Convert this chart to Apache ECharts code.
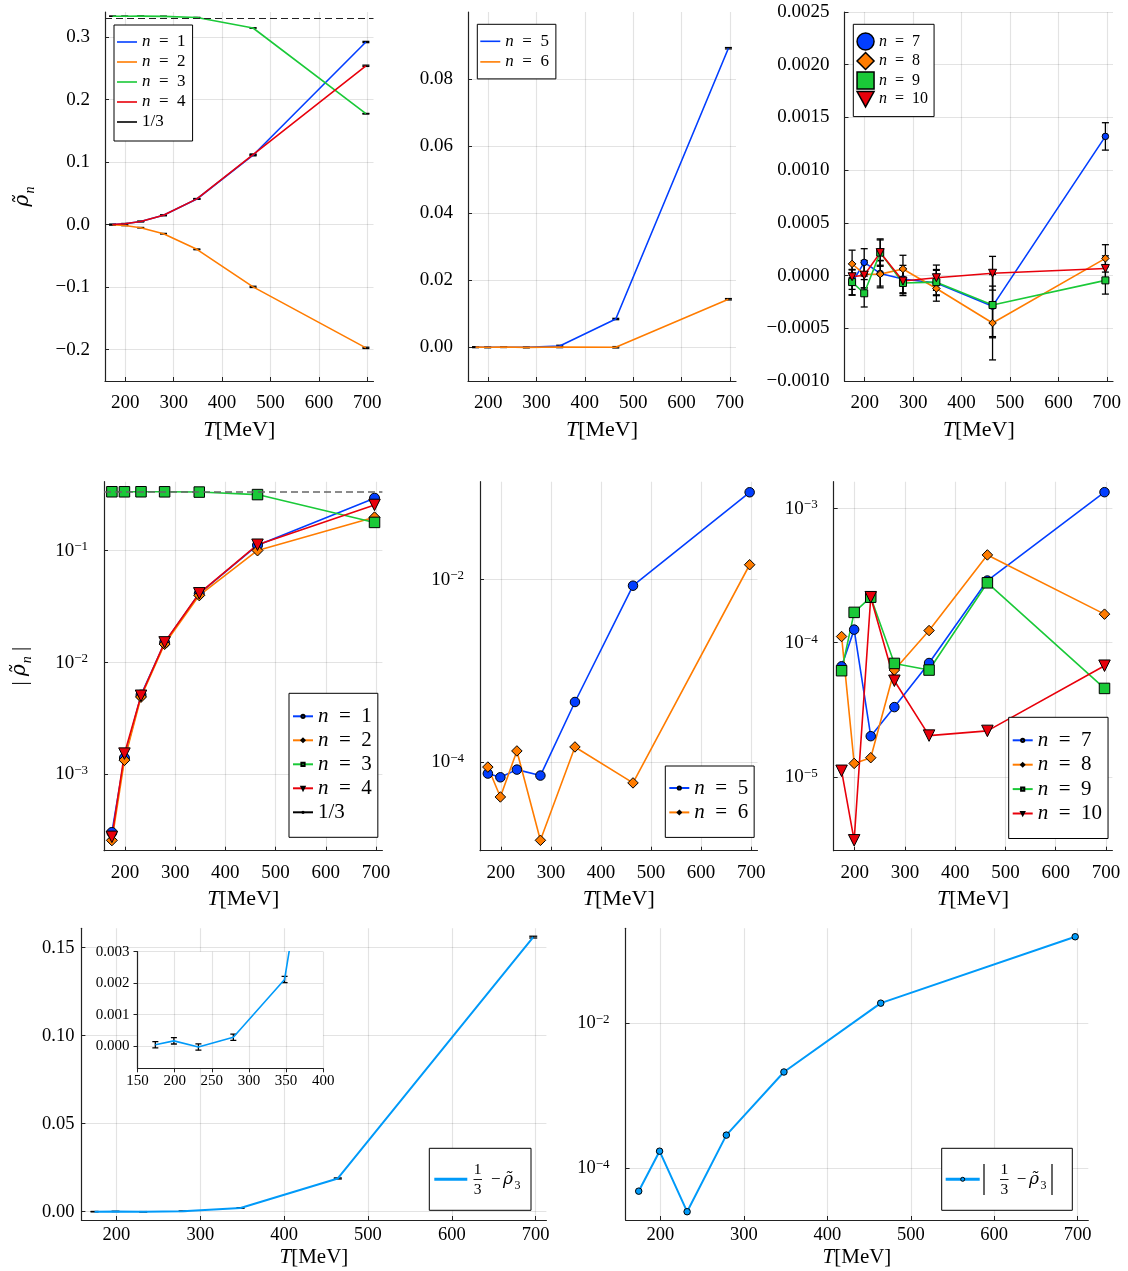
<!DOCTYPE html>
<html><head><meta charset="utf-8">
<script src="https://cdn.jsdelivr.net/npm/echarts@6/dist/echarts.min.js"></script>
<style>html,body{margin:0;padding:0;background:#fff}#c{width:1128px;height:1271px}</style>
</head><body><div id="c"></div>
<script>
// ---------------- data ----------------
const T = [174, 199, 232, 279, 348, 464, 697];
const ONE_THIRD = 1 / 3;
const rho1 = [0.000300, 0.00139, 0.00507, 0.0149, 0.0410, 0.111, 0.292];
const rho2 = [-0.000255, -0.00133, -0.00488, -0.0145, -0.0395, -0.0995, -0.197];
const rho4 = [0.000274, 0.00152, 0.00500, 0.0150, 0.0412, 0.112, 0.254];
const d3   = [0.000048, 0.000171, -0.000025, 0.000285, 0.00212, 0.0189, 0.156]; // 1/3 - rho3
const rho3 = d3.map(v => ONE_THIRD - v);
const rho5 = [0.0000747, 0.0000680, 0.0000825, 0.0000710, 0.000453, 0.00848, 0.0892];
const rho6 = [0.0000880, 0.0000414, 0.000132, 0.0000139, 0.000146, 0.0000590, 0.01437];
const rho7 = [-0.0000666, 0.000125, 0.0000201, -0.0000331, -0.0000705, -0.000290, 0.00132];
const rho8 = [0.000111, 0.0000126, 0.0000139, 0.0000625, -0.000123, -0.000450, 0.000163];
const rho9 = [-0.0000618, -0.000168, 0.000218, -0.0000700, -0.0000625, -0.000279, -0.0000456];
const rho10 = [-0.0000111, 0.00000337, 0.000218, -0.0000520, -0.0000203, 0.0000220, 0.0000673];

const errLow = [0.0002, 0.0003, 0.0004, 0.0005, 0.0006, 0.0010, 0.0010];
const errD3  = [0.0001, 0.0001, 0.0001, 0.0001, 0.0001, 0.0003, 0.0005];
const err56  = [0.0001, 0.0001, 0.0001, 0.0001, 0.0002, 0.0002, 0.0002];
const err7  = [0.00012, 0.00013, 0.00012, 0.00013, 0.00012, 0.00030, 0.00013];
const err8  = [0.00013, 0.00013, 0.00013, 0.00013, 0.00012, 0.00035, 0.00013];
const err9  = [0.00012, 0.00013, 0.00012, 0.00012, 0.00012, 0.00030, 0.00013];
const err10 = [0.00012, 0.00012, 0.00013, 0.00012, 0.00012, 0.00016, 0.00012];

// tick labels
const xTicks = [200, 300, 400, 500, 600, 700];
const insetXTicks = [150, 200, 250, 300, 350, 400];
const yTicksP1 = [-0.2, -0.1, 0, 0.1, 0.2, 0.3];
const yTicksP2 = [0, 0.02, 0.04, 0.06, 0.08];
const yTicksP3 = [-0.001, -0.0005, 0, 0.0005, 0.001, 0.0015, 0.002, 0.0025];
const yTicksP7 = [0, 0.05, 0.1, 0.15];
const yTicksInset = [0, 0.001, 0.002, 0.003];
const logTicksP4 = [1e-3, 1e-2, 1e-1];
const logTicksP5 = [1e-4, 1e-2];
const logTicksP6 = [1e-5, 1e-4, 1e-3];
const logTicksP8 = [1e-4, 1e-2];

// ---------------- style ----------------
const FF = '"Liberation Serif","DejaVu Serif",serif';
const FG = '"DejaVu Serif","Liberation Serif",serif'; // for rho with combining tilde
const BLUE = '#023eff', ORANGE = '#ff7c00', GREEN = '#1ac938', RED = '#e8000b', SKY = '#009af9';
const GRIDC = 'rgba(0,0,0,0.11)';
const AXC = '#222';
const XMIN = 158.3, XMAX = 712.7;

const grids = [
  {left: 105, top: 12, width: 268.5, height: 369},
  {left: 468, top: 12, width: 268, height: 369},
  {left: 844.5, top: 12, width: 268.5, height: 369},
  {left: 104, top: 481.7, width: 278.4, height: 369},
  {left: 480, top: 481.7, width: 277.5, height: 369},
  {left: 833.7, top: 481.7, width: 278.7, height: 369},
  {left: 81.4, top: 928.3, width: 465, height: 291.7},
  {left: 625.6, top: 928.3, width: 462.7, height: 291.7},
  {left: 137.5, top: 951.7, width: 185.7, height: 116.6, show: true, backgroundColor: '#fff', borderWidth: 0, z: 5}
].map(g => Object.assign({containLabel: false, outerBoundsMode: 'none'}, g));

const fmtLin = d => v => (v < -1e-12 ? '\u2212' : '') + Math.abs(v).toFixed(d);
const fmtLog = v => { const e = Math.round(Math.log10(v)); return '{b|10}{s|' + (e < 0 ? '\u2212' : '') + Math.abs(e) + '}'; };
const logRich = fs => ({
  b: {fontFamily: FF, fontSize: fs, lineHeight: fs + 1, padding: [9, 0, 0, 0], verticalAlign: 'bottom', color: '#000'},
  s: {fontFamily: FF, fontSize: Math.round(fs * 0.7), lineHeight: 14, verticalAlign: 'top', color: '#000'}
});

function xAxisOf(gi, o) {
  const ticks = o.ticks || xTicks;
  return {
    type: 'value', gridIndex: gi,
    min: o.min !== undefined ? o.min : XMIN, max: o.max !== undefined ? o.max : XMAX,
    axisLine: {show: true, onZero: false, lineStyle: {color: AXC, width: 1.2}},
    axisTick: {show: true, inside: o.tickOut ? false : true, length: 4, customValues: ticks, lineStyle: {color: AXC, width: 1}},
    axisLabel: {show: true, customValues: ticks, fontFamily: FF, fontSize: o.fs, color: '#000', margin: o.margin, formatter: v => String(v)},
    splitLine: {show: true, lineStyle: {color: GRIDC, width: 1.2}},
    name: o.noName ? '' : '{i|T}[MeV]', nameLocation: 'middle', nameGap: o.nameGap || 30,
    nameTextStyle: {fontFamily: FF, fontSize: o.nfs || 20, color: '#000',
      rich: {i: {fontFamily: FF, fontSize: o.nfs || 20, fontStyle: 'italic', color: '#000'}}},
    z: o.z || 0
  };
}
function yAxisOf(gi, o) {
  const ax = {
    type: o.log ? 'log' : 'value', gridIndex: gi, min: o.min, max: o.max,
    axisLine: {show: true, onZero: false, lineStyle: {color: AXC, width: 1.2}},
    axisTick: {show: true, inside: o.tickOut ? false : true, length: 4, customValues: o.ticks, lineStyle: {color: AXC, width: 1}},
    axisLabel: {show: true, customValues: o.ticks, fontFamily: FF, fontSize: o.fs, color: '#000', margin: o.margin,
      formatter: o.log ? fmtLog : fmtLin(o.dec)},
    splitLine: {show: true, lineStyle: {color: GRIDC, width: 1.2}},
    z: o.z || 0
  };
  if (o.log) { ax.logBase = 10; ax.axisLabel.rich = logRich(o.fs); }
  if (o.name) {
    ax.name = o.name; ax.nameLocation = 'middle'; ax.nameGap = o.nameGap; ax.nameRotate = 90;
    ax.nameTextStyle = {fontFamily: FF, fontSize: 21, color: '#000', rich: {
      r: {fontFamily: FG, fontSize: 20, fontStyle: 'italic', lineHeight: 22, verticalAlign: 'top', color: '#000'},
      u: {fontFamily: FF, fontSize: 21, lineHeight: 22, verticalAlign: 'top', color: '#000'},
      s: {fontFamily: FF, fontSize: 14, fontStyle: 'italic', lineHeight: 14, padding: [10, 0, 0, 1], verticalAlign: 'top', color: '#000'}
    }};
  }
  return ax;
}

const xAxes = [
  xAxisOf(0, {fs: 19, margin: 13, nameGap: 38, nfs: 22}),
  xAxisOf(1, {fs: 19, margin: 13, nameGap: 38, nfs: 22}),
  xAxisOf(2, {fs: 19, margin: 13, nameGap: 38, nfs: 22}),
  xAxisOf(3, {fs: 19, margin: 13, nameGap: 38, nfs: 22}),
  xAxisOf(4, {fs: 19, margin: 13, nameGap: 38, nfs: 22}),
  xAxisOf(5, {fs: 19, margin: 13, nameGap: 38, nfs: 22}),
  xAxisOf(6, {fs: 18.5, margin: 6, nameGap: 27, nfs: 21}),
  xAxisOf(7, {fs: 18.5, margin: 6, nameGap: 27, nfs: 21}),
  xAxisOf(8, {fs: 15, margin: 5, noName: true, min: 150, max: 400, ticks: insetXTicks, tickOut: true, z: 6})
];
const yAxes = [
  yAxisOf(0, {min: -0.25, max: 0.34, ticks: yTicksP1, dec: 1, fs: 19, margin: 15, name: '{r|ρ̃}{s|n}', nameGap: 70}),
  yAxisOf(1, {min: -0.01, max: 0.1, ticks: yTicksP2, dec: 2, fs: 19, margin: 15}),
  yAxisOf(2, {min: -0.001, max: 0.0025, ticks: yTicksP3, dec: 4, fs: 19, margin: 15}),
  yAxisOf(3, {log: true, min: 2.06e-4, max: 0.41, ticks: logTicksP4, fs: 19, margin: 16, name: '{u|| }{r|ρ̃}{s|n}{u| |}', nameGap: 72}),
  yAxisOf(4, {log: true, min: 1.07e-5, max: 0.1164, ticks: logTicksP5, fs: 19, margin: 16}),
  yAxisOf(5, {log: true, min: 2.82e-6, max: 1.58e-3, ticks: logTicksP6, fs: 19, margin: 16}),
  yAxisOf(6, {min: -0.0047, max: 0.161, ticks: yTicksP7, dec: 2, fs: 18.5, margin: 7}),
  yAxisOf(7, {log: true, min: 1.92e-5, max: 0.204, ticks: logTicksP8, fs: 18.5, margin: 16}),
  yAxisOf(8, {min: -0.0007, max: 0.003, ticks: yTicksInset, dec: 3, fs: 15, margin: 8, tickOut: true, z: 6})
];

// ---------------- series helpers ----------------
function errS(gi, ys, es, capW, z, clip) {
  return {
    type: 'custom', xAxisIndex: gi, yAxisIndex: gi, silent: true, z: z || 2, animation: false, clip: !!clip,
    data: T.map((t, i) => [t, ys[i], es[i]]),
    encode: {x: 0, y: 1},
    renderItem: (params, api) => {
      const x = api.value(0), y = api.value(1), e = api.value(2);
      const a = api.coord([x, y + e]), b = api.coord([x, y - e]);
      if (clip) {
        const r = params.coordSys;
        if (a[0] < r.x || a[0] > r.x + r.width || b[1] < r.y || a[1] > r.y + r.height) return null;
      }
      const h = capW / 2, st = {stroke: '#000', lineWidth: 1.3};
      return {type: 'group', children: [
        {type: 'line', shape: {x1: a[0], y1: a[1], x2: b[0], y2: b[1]}, style: st},
        {type: 'line', shape: {x1: a[0] - h, y1: a[1], x2: a[0] + h, y2: a[1]}, style: st},
        {type: 'line', shape: {x1: b[0] - h, y1: b[1], x2: b[0] + h, y2: b[1]}, style: st}
      ]};
    }
  };
}
function lineS(name, gi, ys, color, o) {
  o = o || {};
  return {
    type: 'line', name, xAxisIndex: gi, yAxisIndex: gi, animation: false, silent: true,
    data: T.map((t, i) => [t, o.abs ? Math.abs(ys[i]) : ys[i]]),
    symbol: o.symbol || 'none', symbolSize: o.size || 6, symbolRotate: o.rot || 0, showSymbol: !!o.symbol,
    lineStyle: {color, width: o.lw || 1.6}, itemStyle: {color, borderColor: '#000', borderWidth: o.symbol ? 1 : 0},
    emphasis: {disabled: true}, z: o.z || 2, clip: true
  };
}
function hline(name, gi, color, width, dash) {
  return {
    type: 'line', name, xAxisIndex: gi, yAxisIndex: gi, data: [], symbol: 'none', animation: false,
    lineStyle: {color: '#000', width: 1.6}, itemStyle: {color: '#000'},
    markLine: {silent: true, symbol: ['none', 'none'], label: {show: false}, animation: false,
      lineStyle: {color, width, type: dash}, emphasis: {disabled: true}, data: [{yAxis: ONE_THIRD}]}
  };
}

const mk = {
  circle: {symbol: 'circle'}, diamond: {symbol: 'diamond'}, square: {symbol: 'rect'}, tri: {symbol: 'triangle', rot: 180}
};
const series = [];
// P1
[[rho1, BLUE, errLow, '1'], [rho2, ORANGE, errLow, '2'], [rho3, GREEN, errD3, '3'], [rho4, RED, errLow, '4']].forEach(([ys, c, e, n]) => {
  series.push(errS(0, ys, e, 7));
  series.push(lineS('n = ' + n + '#1', 0, ys, c));
});
series.push(hline('1/3#1', 0, '#222', 1, [7, 4]));
// P2
[[rho5, BLUE, '5'], [rho6, ORANGE, '6']].forEach(([ys, c, n]) => {
  series.push(errS(1, ys, err56, 7));
  series.push(lineS('n = ' + n + '#2', 1, ys, c));
});
// P3
[[rho7, BLUE, err7, '7', mk.circle, 6.5], [rho8, ORANGE, err8, '8', mk.diamond, 7.5], [rho9, GREEN, err9, '9', mk.square, 7], [rho10, RED, err10, '10', mk.tri, 8]].forEach(([ys, c, e, n, m, sz]) => {
  series.push(errS(2, ys, e, 7));
  series.push(lineS('n = ' + n + '#3', 2, ys, c, {symbol: m.symbol, rot: m.rot, size: sz}));
});
// P4
[[rho1, BLUE, '1', mk.circle, 10], [rho2, ORANGE, '2', mk.diamond, 11], [rho3, GREEN, '3', mk.square, 10.5], [rho4, RED, '4', mk.tri, 11.5]].forEach(([ys, c, n, m, sz]) => {
  series.push(lineS('n = ' + n + '#4', 3, ys, c, {abs: true, symbol: m.symbol, rot: m.rot, size: sz}));
});
series.push(hline('1/3#4', 3, '#666', 1.5, [7, 4]));
// P5
[[rho5, BLUE, '5', mk.circle, 9.5], [rho6, ORANGE, '6', mk.diamond, 10.5]].forEach(([ys, c, n, m, sz]) => {
  series.push(lineS('n = ' + n + '#5', 4, ys, c, {abs: true, symbol: m.symbol, rot: m.rot, size: sz}));
});
// P6
[[rho7, BLUE, '7', mk.circle, 9.5], [rho8, ORANGE, '8', mk.diamond, 10.5], [rho9, GREEN, '9', mk.square, 10.5], [rho10, RED, '10', mk.tri, 11.5]].forEach(([ys, c, n, m, sz]) => {
  series.push(lineS('n = ' + n + '#6', 5, ys, c, {abs: true, symbol: m.symbol, rot: m.rot, size: sz}));
});
// P7
series.push(errS(6, d3, errD3, 8));
series.push(lineS('d3#7', 6, d3, SKY, {lw: 2}));
// inset
series.push(errS(8, d3, errD3, 6, 7, true));
series.push(lineS('d3#inset', 8, d3, SKY, {lw: 1.6, z: 7}));
// P8
series.push(lineS('d3#8', 7, d3, SKY, {abs: true, symbol: 'circle', size: 6.5, lw: 2}));

// ---------------- legends ----------------
const legFmt = name => {
  const s = name.split('#')[0];
  return s.indexOf('n = ') === 0 ? '{i|n}\u2002=\u2002' + s.slice(4) : s;
};
function legend(o) {
  return Object.assign({
    show: true, orient: 'vertical', selectedMode: false, formatter: legFmt,
    backgroundColor: '#fff', borderColor: '#000', borderWidth: 1, borderRadius: 0,
    textStyle: {fontFamily: FF, fontSize: o.fs, color: '#000', lineHeight: o.lh,
      rich: {i: {fontFamily: FF, fontSize: o.fs, fontStyle: 'italic', lineHeight: o.lh, color: '#000'}}}
  }, o.extra);
}
const legends = [
  legend({fs: 17, lh: 18, extra: {left: 114, top: 25, icon: 'rect', itemWidth: 20, itemHeight: 1.6, itemGap: 2, padding: [8, 7, 10, 3],
    data: ['n = 1#1', 'n = 2#1', 'n = 3#1', 'n = 4#1', '1/3#1']}}),
  legend({fs: 17, lh: 18, extra: {left: 477.3, top: 24.3, icon: 'rect', itemWidth: 20, itemHeight: 1.6, itemGap: 2.6, padding: [8, 7, 8, 3],
    data: ['n = 5#2', 'n = 6#2']}}),
  legend({fs: 16, lh: 16, extra: {left: 853.3, top: 24.3, itemWidth: 17, itemHeight: 17, itemGap: 1, padding: [8, 6, 9, 3],
    itemStyle: {borderColor: '#000', borderWidth: 1.5},
    data: [{name: 'n = 7#3', icon: 'circle'}, {name: 'n = 8#3', icon: 'diamond'}, {name: 'n = 9#3', icon: 'rect'},
           {name: 'n = 10#3', icon: 'path://M0,0L10,0L5,9Z'}]}}),
  legend({fs: 21, lh: 22, extra: {left: 289, top: 693.3, itemWidth: 20, itemHeight: 4, itemGap: 2, padding: [12, 6, 14, 3],
    data: ['n = 1#4', 'n = 2#4', 'n = 3#4', 'n = 4#4', '1/3#4']}}),
  legend({fs: 21, lh: 22, extra: {left: 665.3, top: 766, itemWidth: 20, itemHeight: 4, itemGap: 2.4, padding: [11, 6, 14, 3],
    data: ['n = 5#5', 'n = 6#5']}}),
  legend({fs: 21, lh: 22, extra: {left: 1008.7, top: 717.3, itemWidth: 20, itemHeight: 4, itemGap: 2.4, padding: [12, 6, 14, 3],
    data: ['n = 7#6', 'n = 8#6', 'n = 9#6', 'n = 10#6']}})
];

// legends with a stacked fraction for the bottom panels
const txt = (x, y, text, fs, extra) => ({type: 'text', x, y, z: 20, silent: true,
  style: Object.assign({text, fontFamily: FF, fontSize: fs, fill: '#000', align: 'center', verticalAlign: 'middle'}, extra || {})});
const ln = (x1, y1, x2, y2, stroke, w) => ({type: 'line', z: 20, silent: true, shape: {x1, y1, x2, y2}, style: {stroke, lineWidth: w}});
const graphic = [
  {type: 'rect', z: 19, silent: true, shape: {x: 429.3, y: 1148.3, width: 101.7, height: 62}, style: {fill: '#fff', stroke: '#000', lineWidth: 1}},
  ln(434.3, 1179.3, 467.3, 1179.3, SKY, 3),
  txt(477.7, 1170, '1', 15.5), ln(473.5, 1179.5, 482, 1179.5, '#000', 0.9), txt(477.7, 1189.5, '3', 15.5),
  txt(495.7, 1179.3, '\u2212', 17), txt(508, 1180, 'ρ̃', 17, {fontStyle: 'italic', fontFamily: FG}), txt(517.5, 1186, '3', 12),

  {type: 'rect', z: 19, silent: true, shape: {x: 941.7, y: 1148.3, width: 130.6, height: 62}, style: {fill: '#fff', stroke: '#000', lineWidth: 1}},
  ln(945.7, 1179.3, 979.7, 1179.3, SKY, 3),
  {type: 'circle', z: 21, silent: true, shape: {cx: 962.7, cy: 1179.3, r: 2}, style: {fill: SKY, stroke: '#000', lineWidth: 1}},
  ln(984, 1164, 984, 1195, '#000', 1.2),
  txt(1004.3, 1170, '1', 15.5), ln(1000, 1179.5, 1008.5, 1179.5, '#000', 0.9), txt(1004.3, 1189.5, '3', 15.5),
  txt(1021.5, 1179.3, '\u2212', 17), txt(1034, 1180, 'ρ̃', 17, {fontStyle: 'italic', fontFamily: FG}), txt(1043.5, 1186, '3', 12),
  ln(1052, 1164, 1052, 1195, '#000', 1.2)
];

const chart = echarts.init(document.getElementById('c'), null, {renderer: 'canvas', width: 1128, height: 1271});
chart.setOption({
  backgroundColor: '#fff', animation: false,
  textStyle: {fontFamily: FF},
  grid: grids, xAxis: xAxes, yAxis: yAxes, legend: legends, series, graphic
});
</script></body></html>
